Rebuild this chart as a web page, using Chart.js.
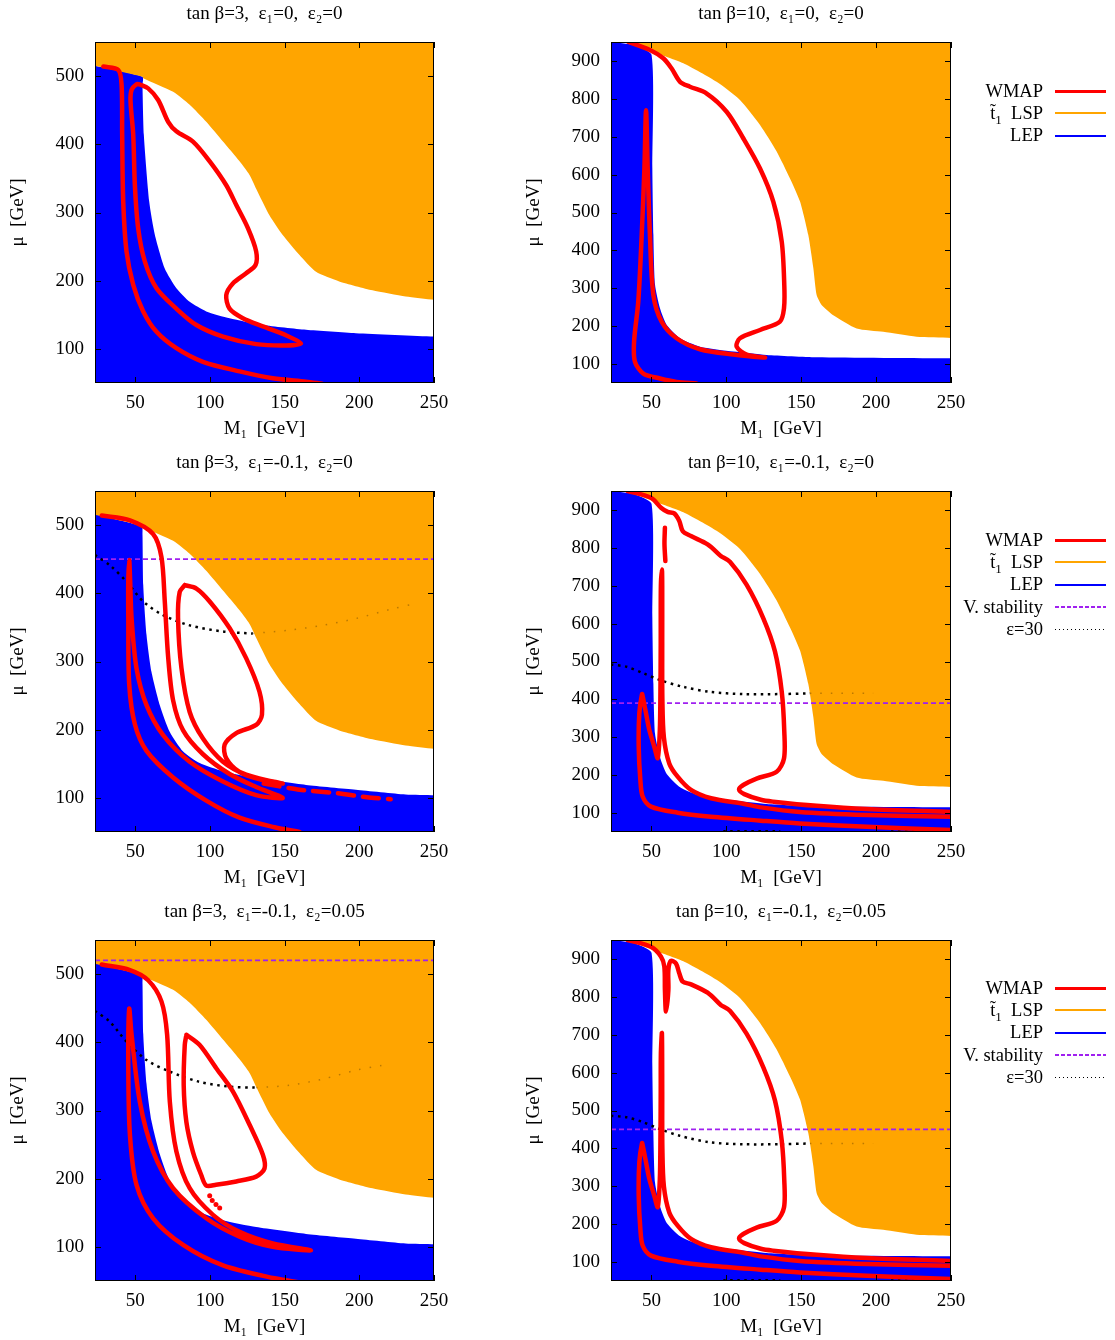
<!DOCTYPE html>
<html>
<head>
<meta charset="utf-8">
<script src="https://cdn.jsdelivr.net/npm/chart.js@4.4.1/dist/chart.umd.min.js"></script>
<style>
body { margin: 0; background: #fff; overflow: hidden; width: 1115px; height: 1340px; position: relative; font-family: "Liberation Serif", serif; }
canvas { position: absolute; }
.row { position: absolute; left: 900px; width: 210px; height: 22px; display: flex; align-items: center; font-size: 18.5px; color: #000; }
.row .lab { width: 143px; text-align: right; white-space: nowrap; }
.row .smp { margin-left: 12px; width: 51px; }
.row sub { font-size: 13px; vertical-align: -5px; line-height: 0; }
</style>
</head>
<body>
<canvas id="p1" width="470" height="449" style="left:0;top:0"></canvas>
<canvas id="p2" width="470" height="449" style="left:516px;top:0"></canvas>
<canvas id="p3" width="470" height="449" style="left:0;top:449px"></canvas>
<canvas id="p4" width="470" height="449" style="left:516px;top:449px"></canvas>
<canvas id="p5" width="470" height="449" style="left:0;top:898px"></canvas>
<canvas id="p6" width="470" height="449" style="left:516px;top:898px"></canvas>
<div id="legends"></div>
<script>
// axis ticks
const mTicks = [50, 100, 150, 200, 250];
const muTicks3 = [100, 200, 300, 400, 500];
const muTicks10 = [100, 200, 300, 400, 500, 600, 700, 800, 900];

const titles = [
    'tan β=3,  ε₁=0,  ε₂=0', 'tan β=10,  ε₁=0,  ε₂=0',
    'tan β=3,  ε₁=-0.1,  ε₂=0', 'tan β=10,  ε₁=-0.1,  ε₂=0',
    'tan β=3,  ε₁=-0.1,  ε₂=0.05', 'tan β=10,  ε₁=-0.1,  ε₂=0.05'
];

// stop LSP (orange) edges, region above
const stopEdge3 = [[23,515],[54.8,499],[55.3,497],[75.3,477],[86.4,458],[97.5,433],[108.7,404],[119.8,375],[126.5,355],[130.9,335],[139.8,296],[148.7,267],[159.8,238],[171,213],[186.5,199],[208.8,186],[231,177],[250,172]];
const stopEdge10 = [[33.5,950],[50.1,925],[71.3,894],[93.5,845],[109.1,797],[122.5,731],[133.6,661],[142.5,590],[149.2,529],[154.7,441],[158.1,353],[160.3,282],[163.6,256],[171.4,229],[187,194],[204.8,185],[227,172],[250,169]];

// LEP (blue) edges, region below
const lepEdge3 = [[23,515],[54.8,499],[54.8,487],[55.7,414],[59.3,316],[63.1,267],[69.7,218],[77.5,189],[86.4,169],[97.5,155],[113.1,145],[135.4,135],[164.3,128],[197.7,123],[250,118]];
const lepEdge3eps = [[23,516],[54.2,498],[54.8,486],[55.3,412],[57.5,339],[60.8,285],[66.4,236],[73,197],[82,168],[93.1,151],[108.7,139],[130.9,129],[164.3,119],[197.7,112],[231,105],[250,104]];
const lepEdge10 = [[23,950],[37.9,942],[50.1,916],[50.6,617],[51.3,441],[52.4,309],[55.7,247],[60.2,203],[69.1,168],[82.4,146],[104.7,133],[126.9,124],[160.3,118],[250,115]];

// WMAP contours
const wmap3a = [[28.6,514],[38.6,509],[40.8,487],[41.2,414],[41.9,316],[44.1,243],[48.6,194],[55.3,155],[64.2,125],[77.5,101],[95.3,81],[119.8,67],[142,57],[164.3,52],[175,49]];
const wmap3b = [[52.6,488],[58.6,482],[65.3,465],[72,433],[77.5,419],[88.6,404],[99.8,375],[110.9,340],[117.6,311],[125.4,277],[130.9,243],[130.5,223],[124.2,211],[115.3,196],[110.9,179],[113.1,159],[122,145],[135.4,133],[150.9,120],[160.9,108],[150.9,105],[130.9,107],[108.7,118],[90.9,135],[77.5,159],[64.2,189],[56.4,228],[51.9,277],[49.7,340],[48.6,414],[46.8,463],[47.5,480],[50.8,488],[52.6,488]];

const wmap3e1a = [[27.5,514],[46.4,507],[61.9,487],[67.5,453],[69.7,389],[72,306],[75.3,243],[82,199],[95.3,164],[113.1,135],[130.9,116],[148.7,100],[130.9,104],[108.7,124],[86.4,153],[68.6,192],[57.5,236],[50.8,290],[47.5,363],[46.5,420],[45.9,449],[45.3,420],[45.3,365],[45.9,267],[49.7,208],[57.5,169],[75.3,130],[97.5,96],[119.8,71],[143.2,57],[160,50]];
const wmap3e1loop = [[83.1,412],[90.9,407],[99.8,388],[113.1,349],[124.2,305],[133.1,256],[134.8,222],[130.9,207],[117.6,195],[109.8,178],[110.9,158],[119.8,138],[135.4,126],[148.7,121],[142,124],[124.2,134],[108.7,153],[95.3,187],[86.4,226],[80.9,290],[78.6,364],[79.7,402],[83.1,412]];
const wmap3e1tail = [[136,121],[160,112],[185,107],[205,101],[221,98]];

const wmap3e2a = [[27.5,514],[46.4,506],[58.6,491],[67.5,460],[71.3,411],[73.1,313],[77.5,240],[86.4,186],[102,147],[119.8,122],[142,105],[167.6,95],[142,100],[119.8,115],[97.5,142],[75.3,186],[61.9,240],[53,313],[47.5,411],[45.9,449],[45.3,362],[46.4,264],[50.8,191],[61.9,142],[82,103],[108.7,73],[143.2,54],[160,48]];
const wmap3e2loop = [[84.2,411],[93.1,396],[104.2,362],[115.3,328],[126.5,279],[135.4,235],[136.5,215],[130.9,203],[117.6,196],[104,191],[97.5,190],[94.2,205],[88.6,239],[84.2,283],[82.4,337],[83.1,396],[84.2,411]];
const wmap3e2bits = [[99.8,175],[101.5,168],[104,162],[106.5,157]];

const wmap10a = [[34.6,950],[49,929],[57.9,907],[63.5,880],[69.1,845],[75.7,832],[86.9,814],[100.2,766],[111.3,696],[122.5,616],[131.4,528],[137,423],[138.7,308],[138.5,247],[135.8,212],[122.5,190],[109.1,168],[106.9,146],[113.6,125],[125.8,117],[104.7,125],[82.4,139],[66.8,168],[56.8,212],[51.3,282],[49,440],[47.5,616],[46.4,770],[45.3,616],[43.5,440],[41.2,264],[38.4,159],[39,106],[44.6,75],[55.7,62],[66.8,53],[80,49]];

const wmapLoop10e = [[96.4,778],[102.4,763],[113.6,702],[124.7,614],[132.5,526],[137,420],[138.7,315],[138.5,244],[133.6,209],[120.2,191],[111.3,174],[108.5,162],[112,150],[123,135],[131.4,130],[160.3,119],[193.7,110.5],[250,103]];
const wmapTop10e1 = [[34.1,950],[49.7,932],[56.4,906],[60.8,895],[65.2,891],[68.6,871],[70.9,844],[76.4,831],[87.5,809],[96.4,778]];
const wmapTop10e2 = [[34.1,950],[49.7,932],[56.4,906],[58.6,880],[59,818],[59.7,761],[61.3,818],[61.3,871],[63,895],[66.4,888],[68.6,862],[70.9,840],[76.4,833],[87.5,811],[96.4,778]];
const wmapSeg10e1 = [[59,853],[58.7,810],[59.3,765]];
const wmapLow10e1 = [[250,90],[194,95],[149,103],[123,115],[112,124],[89.8,139],[76.4,161],[67.5,196],[61.9,231],[58.3,300],[57.3,400],[57.2,550],[57.2,700],[57,743],[56.3,700],[56.2,550],[56,420],[55.6,319],[54.2,245],[51.9,275],[48.6,319],[46.4,363],[44.2,407],[43.7,414],[41.9,363],[41.5,275],[42.6,187],[44.2,143],[49.7,117],[67.5,101],[89.8,90.5],[123,80],[149,72.6],[194,64],[250,55]];
const wmapLow10e2 = [[250,90],[194,95],[149,103],[123,115],[112,124],[89.8,139],[76.4,161],[67.5,196],[61.9,231],[58.3,300],[57.3,400],[57.2,550],[57,704],[56.3,650],[56.2,550],[56,420],[55.6,319],[54.2,245],[51.9,275],[48.6,319],[46.4,363],[44.2,407],[43.7,414],[41.9,363],[41.5,275],[42.6,187],[44.2,143],[49.7,117],[67.5,101],[89.8,90.5],[123,80],[149,72.6],[194,64],[250,55]];

// vacuum stability bound per panel (null: not shown)
const vStability = [null, null, 450, 390, 520, 450];

// epsilon = 30 curves (visible part, then part hidden under the stop region)
const eps30p3 = [[23,456],[33,441],[44.1,417],[55.3,388],[68.6,368],[86.4,353],[108.7,344],[128.7,341]];
const eps30p3faint = [[128.7,341],[153.2,346],[175.4,353],[197.7,363],[220,376],[237.7,385]];
const eps30p4 = [[23,492],[33.5,486],[44.6,469],[55.7,451],[71.3,433],[89.1,420],[111.3,414],[135.8,414],[155.8,416]];
const eps30p4faint = [[155.8,416],[198,416]];
const eps30p5 = [[23,446],[33,430],[44.1,401],[57.5,374],[73.1,357],[93.1,342],[113.1,335],[130.9,333.5]];
const eps30p5faint = [[130.9,333.5],[153.2,337],[175.4,346],[197.7,359],[215,366]];
const eps30p6 = [[23,486],[33.5,482],[44.6,469],[55.7,451],[69.1,433],[89.1,416],[111.3,411],[135.8,411],[155.8,413]];
const eps30p6faint = [[155.8,413],[198,413]];
const eps30low10 = [[98,52],[136,52]];
const eps30low10b = [[210,51],[250,51]];

const pts = arr => arr.map(([x, y]) => ({x, y}));

const region = (arr, color, side) => ({
    data: pts(arr), borderColor: color, borderWidth: 0, backgroundColor: color,
    fill: side, pointRadius: 0, tension: 0.2, order: 10
});
const wmap = arr => ({
    data: pts(arr), borderColor: '#ff0000', borderWidth: 4.5, pointRadius: 0,
    tension: 0.3, fill: false, order: 1, borderCapStyle: 'round', borderJoinStyle: 'round'
});
const dotted = (arr, color) => ({
    data: pts(arr), borderColor: color, borderWidth: 2.5, borderDash: [2.5, 4.5],
    pointRadius: 0, tension: 0.3, fill: false, order: 5
});
const hline = (y) => ({
    data: [{x: 23, y: y}, {x: 250, y: y}], borderColor: '#a020f0', borderWidth: 1.8,
    borderDash: [5, 3], pointRadius: 0, fill: false, order: 4
});

const panels = [
    {id: 'p1', tb: 3, stop: stopEdge3, lep: lepEdge3, lines: [wmap3a, wmap3b], eps: []},
    {id: 'p2', tb: 10, stop: stopEdge10, lep: lepEdge10, lines: [wmap10a], eps: []},
    {id: 'p3', tb: 3, stop: stopEdge3, lep: lepEdge3eps, lines: [wmap3e1a, wmap3e1loop], eps: [eps30p3], faint: [eps30p3faint]},
    {id: 'p4', tb: 10, stop: stopEdge10, lep: lepEdge10, lines: [wmapTop10e1.concat(wmapLoop10e), wmapSeg10e1, wmapLow10e1], eps: [eps30p4, eps30low10, eps30low10b], faint: [eps30p4faint]},
    {id: 'p5', tb: 3, stop: stopEdge3, lep: lepEdge3eps, lines: [wmap3e2a, wmap3e2loop], eps: [eps30p5], faint: [eps30p5faint]},
    {id: 'p6', tb: 10, stop: stopEdge10, lep: lepEdge10, lines: [wmapTop10e2.concat(wmapLoop10e), wmapLow10e2], eps: [eps30p6, eps30low10, eps30low10b], faint: [eps30p6faint]}
];

const frame = {
    id: 'frame',
    afterDraw(chart) {
        const {ctx, chartArea: a, scales} = chart;
        ctx.save();
        ctx.strokeStyle = '#000';
        ctx.lineWidth = 1;
        ctx.strokeRect(a.left + 0.5, a.top + 0.5, a.right - a.left - 1, a.bottom - a.top - 1);
        ctx.beginPath();
        scales.x.ticks.forEach(t => {
            const px = Math.round(scales.x.getPixelForValue(t.value)) + 0.5;
            ctx.moveTo(px, a.bottom); ctx.lineTo(px, a.bottom - 6);
            ctx.moveTo(px, a.top); ctx.lineTo(px, a.top + 6);
        });
        scales.y.ticks.forEach(t => {
            const py = Math.round(scales.y.getPixelForValue(t.value)) + 0.5;
            ctx.moveTo(a.left, py); ctx.lineTo(a.left + 6, py);
            ctx.moveTo(a.right, py); ctx.lineTo(a.right - 6, py);
        });
        ctx.stroke();
        ctx.restore();
    }
};

const font = {family: '"Liberation Serif", serif', size: 19};

panels.forEach((p, i) => {
    const datasets = [];
    p.lines.forEach(l => datasets.push(wmap(l)));
    if (i === 4) {
        datasets.push({data: pts(wmap3e2bits), borderColor: '#ff0000', backgroundColor: '#ff0000',
            showLine: false, pointRadius: 2.5, pointBorderWidth: 0, order: 1});
    }
    if (i === 2) {
        const tail = wmap(wmap3e1tail);
        tail.borderDash = [16, 9];
        tail.tension = 0.2;
        datasets.push(tail);
    }
    if (vStability[i] !== null) datasets.push(hline(vStability[i]));
    p.eps.forEach(e => datasets.push(dotted(e, '#000')));
    (p.faint || []).forEach(e => {
        const d = dotted(e, 'rgba(60,40,0,0.35)');
        d.borderWidth = 1.5;
        d.borderDash = [1.5, 9];
        d.order = 3;
        datasets.push(d);
    });
    datasets.push(region(p.stop, '#ffa500', 'end'));
    datasets.push(region(p.lep, '#0000ff', 'start'));

    const muTicks = p.tb === 3 ? muTicks3 : muTicks10;
    new Chart(document.getElementById(p.id), {
        type: 'line',
        data: {datasets: datasets},
        plugins: [frame],
        options: {
            responsive: false,
            animation: false,
            events: [],
            layout: {padding: {left: 0, right: p.tb === 3 ? 36 : 35, top: 0, bottom: 0}},
            plugins: {
                legend: {display: false},
                tooltip: {enabled: false},
                title: {
                    display: true, fullSize: false, text: titles[i], color: '#000',
                    font: {family: font.family, size: 19, weight: 'normal', lineHeight: 1.2},
                    padding: {top: 3, bottom: 16.2}
                }
            },
            scales: {
                x: {
                    type: 'linear', min: 23, max: 250,
                    afterBuildTicks: s => { s.ticks = mTicks.map(v => ({value: v})); },
                    afterFit: s => { s.height = 66; },
                    grid: {display: false, drawTicks: false},
                    border: {display: false},
                    ticks: {autoSkip: false, maxRotation: 0, color: '#000', font: font, padding: 9},
                    title: {display: true, text: 'M₁  [GeV]', color: '#000', font: font, padding: {top: 4, bottom: 9}}
                },
                y: {
                    type: 'linear', min: 50, max: p.tb === 3 ? 550 : 950,
                    afterBuildTicks: s => { s.ticks = muTicks.map(v => ({value: v})); },
                    afterFit: s => { s.width = 95; },
                    grid: {display: false, drawTicks: false},
                    border: {display: false},
                    ticks: {autoSkip: false, color: '#000', font: font, padding: 11},
                    title: {display: true, text: 'μ  [GeV]', color: '#000', font: font, padding: {top: 7, bottom: 4}}
                }
            }
        }
    });
});

// legends to the right of the tan(beta)=10 panels
const legendTop = [91, 540, 988];
const legendItems = [
    {label: 'WMAP', style: 'height:3px;background:#ff0000'},
    {label: 't&#771;<sub>1</sub>&nbsp; LSP', style: 'height:2px;background:#ffa500'},
    {label: 'LEP', style: 'height:2px;background:#0000ff'},
    {label: 'V. stability', style: 'height:1.5px;background:repeating-linear-gradient(to right,#a020f0 0 4px,transparent 4px 6px)'},
    {label: 'ε=30', style: 'height:1.5px;background:repeating-linear-gradient(to right,#000 0 1.5px,transparent 1.5px 4px)'}
];
const host = document.getElementById('legends');
legendTop.forEach((y0, r) => {
    const n = r === 0 ? 3 : 5;
    for (let k = 0; k < n; k++) {
        const row = document.createElement('div');
        row.className = 'row';
        row.style.top = (y0 + k * 22.4 - 11) + 'px';
        row.innerHTML = '<span class="lab">' + legendItems[k].label + '</span><span class="smp" style="' + legendItems[k].style + '"></span>';
        host.appendChild(row);
    }
});
</script>
</body>
</html>
